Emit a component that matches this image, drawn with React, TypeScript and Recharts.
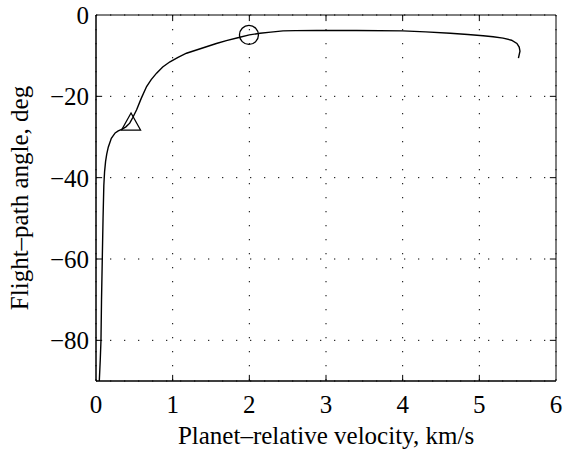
import React from 'react';
import {
  LineChart, Line, XAxis, YAxis, CartesianGrid, ReferenceDot, ReferenceLine, ReferenceArea, Label,
} from 'recharts';

// Trajectory: planet-relative velocity (km/s) vs flight-path angle (deg), in time order
const velocity = [5.51, 5.53, 5.52, 5.49, 5.42, 5.31, 5.18, 5.05, 4.85, 4.62, 4.3, 4.0, 3.4, 2.88, 2.6, 2.44, 2.28, 2.14, 2.0, 1.85, 1.70, 1.57, 1.44, 1.31, 1.18, 1.07, 0.965, 0.87, 0.79, 0.72, 0.66, 0.59, 0.53, 0.48, 0.44, 0.39, 0.335, 0.29, 0.25, 0.2, 0.16, 0.14, 0.125, 0.112, 0.102, 0.092, 0.082, 0.072, 0.065, 0.055, 0.043];
const angle = [-10.6, -8.9, -7.9, -7.0, -6.2, -5.7, -5.35, -5.1, -4.8, -4.5, -4.15, -3.9, -3.8, -3.8, -3.85, -3.9, -4.2, -4.5, -4.9, -5.6, -6.3, -7.0, -7.8, -8.6, -9.4, -10.4, -11.5, -12.8, -14.3, -15.9, -17.6, -20.5, -23.3, -25.2, -26.6, -27.5, -28.1, -28.5, -29.0, -30.3, -32.5, -34.2, -36.0, -38.5, -42, -50, -60, -70, -80, -85, -90];

const xTicks = [0, 1, 2, 3, 4, 5, 6];
const yTicks = [-80, -60, -40, -20, 0];

// Event markers
const triangleMarker = { v: 0.457, a: -26.2 };
const circleMarker = { v: 1.995, a: -4.9 };

const data = velocity.map((v, i) => ({ v, a: angle[i] }));

const FONT = '"Liberation Serif", "Times New Roman", "DejaVu Serif", serif';
const FS = 25;
const fmt = (t: number) => String(t).replace('-', '\u2212');

const xInner = xTicks.slice(1, -1);
const yInner = yTicks.slice(0, -1);
const TLX = 0.08; // inward tick length in x units
const TLY = 1.5;  // inward tick length in y units

export default function App() {
  return (
    <div style={{ position: 'absolute', left: 0, top: 0, fontFamily: FONT }}>
      <LineChart width={563} height={452} data={data} margin={{ top: 15, right: 7, bottom: 0, left: 0 }}
        style={{ fontFamily: FONT }}>
        <CartesianGrid stroke="#000" strokeDasharray="1.3 12.7" strokeWidth={1} />
        <XAxis
          type="number" dataKey="v" domain={[0, 6]} ticks={xTicks} height={71}
          tickLine={false} axisLine={{ stroke: '#000' }} tickMargin={8} tickFormatter={fmt}
          tick={{ fill: '#000', fontFamily: FONT, fontSize: FS, style: { fontFamily: FONT } }} allowDataOverflow
        >
          <Label value={'Planet\u2013relative velocity, km/s'} position="insideBottom" offset={8}
            style={{ fill: '#000', fontFamily: FONT, fontSize: FS }} />
        </XAxis>
        <YAxis
          type="number" domain={[-90, 0]} ticks={yTicks} width={96}
          tickLine={false} axisLine={{ stroke: '#000' }} tickMargin={1} tickFormatter={fmt}
          tick={{ fill: '#000', fontFamily: FONT, fontSize: FS, style: { fontFamily: FONT } }} allowDataOverflow
        >
          <Label
            content={() => (
              <text x={28} y={198} transform="rotate(-90 28 198)" textAnchor="middle"
                style={{ fill: '#000', fontFamily: FONT, fontSize: FS }}>
                {'Flight\u2013path angle, deg'}
              </text>
            )}
          />
        </YAxis>
        <ReferenceArea x1={0} x2={6} y1={-90} y2={0} fill="none" stroke="#000" strokeWidth={1} ifOverflow="visible" />
        {xInner.map((t) => (
          <ReferenceLine key={'xb' + t} segment={[{ x: t, y: -90 }, { x: t, y: -90 + TLY }]} stroke="#000" />
        ))}
        {xInner.map((t) => (
          <ReferenceLine key={'xt' + t} segment={[{ x: t, y: 0 }, { x: t, y: -TLY }]} stroke="#000" />
        ))}
        {yInner.map((t) => (
          <ReferenceLine key={'yl' + t} segment={[{ x: 0, y: t }, { x: TLX, y: t }]} stroke="#000" />
        ))}
        {yInner.map((t) => (
          <ReferenceLine key={'yr' + t} segment={[{ x: 6, y: t }, { x: 6 - TLX, y: t }]} stroke="#000" />
        ))}
        <Line type="linear" dataKey="a" stroke="#000" strokeWidth={1.4} dot={false} isAnimationActive={false} />
        <ReferenceDot
          x={triangleMarker.v} y={triangleMarker.a}
          shape={(p: any) => (
            <polygon
              points={`${p.cx},${p.cy - 8.5} ${p.cx - 9.5},${p.cy + 8.5} ${p.cx + 9.5},${p.cy + 8.5}`}
              fill="none" stroke="#000" strokeWidth={1.3}
            />
          )}
        />
        <ReferenceDot
          x={circleMarker.v} y={circleMarker.a}
          shape={(p: any) => (
            <circle cx={p.cx} cy={p.cy} r={9.5} fill="none" stroke="#000" strokeWidth={1.3} />
          )}
        />
      </LineChart>
    </div>
  );
}
